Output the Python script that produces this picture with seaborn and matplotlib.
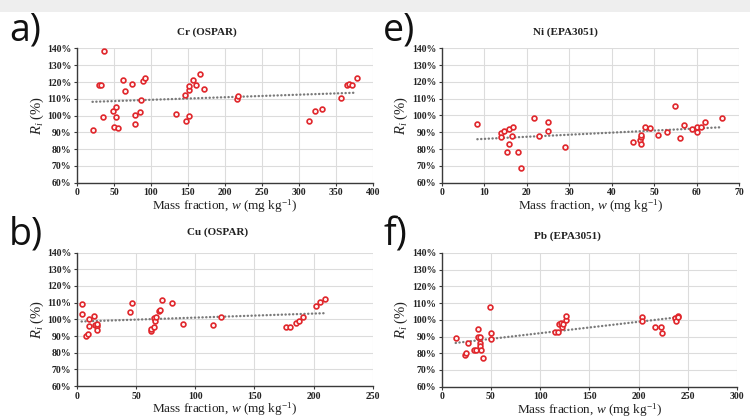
import matplotlib
matplotlib.use("Agg")
import matplotlib.pyplot as plt
import seaborn as sns
from matplotlib.ticker import PercentFormatter, MultipleLocator
from matplotlib.patches import Rectangle

# a) Cr (OSPAR)
cr_w = [21, 29.5, 32.5, 37, 34.5, 48.5, 53, 53, 50, 55.5, 62, 65, 74, 78, 79, 85, 86.5, 89, 92,
        134, 146, 147, 151, 151, 152, 157, 161, 166.5, 171.5, 216, 218,
        313, 322, 331, 357, 365, 368, 372, 378]
cr_r = [91.5, 118, 118, 138.5, 99, 103, 105, 99, 93, 92.5, 121.5, 114.5, 119, 95, 100.5, 102, 109.5, 120.5, 122.5,
        101, 112, 97, 100, 115.5, 117.5, 121, 118, 125, 116, 110, 111.5,
        96.5, 102.5, 104, 110.5, 118, 119, 118, 122.5]

# e) Ni (EPA3051)
ni_w = [8.4, 13.9, 13.9, 14.7, 15.8, 16.8, 16.6, 15.8, 15.4, 17.9, 18.7, 21.7, 22.9, 25, 25.1, 29,
        45, 46.7, 46.9, 46.9, 46.9, 47.9, 49, 51, 53, 55, 56, 57, 59, 60, 60, 61, 62, 66]
ni_r = [95, 89.5, 87.5, 91, 92, 93, 88, 83, 78, 78.5, 69, 98.5, 88, 96, 91, 81,
        84.5, 85.5, 87.5, 88.5, 83, 93, 92.5, 88.5, 90, 105.5, 86.5, 94.5, 92, 90, 93, 93, 96, 98.5]

# b) Cu (OSPAR)
cu_w = [3.9, 3.9, 7.6, 9, 10.1, 10.1, 14.6, 15.2, 16.9, 16.9, 17.2, 44.4, 46.1,
        62.5, 62.8, 65, 64.7, 65.9, 67, 69.2, 70.4, 71.8, 79.9, 89.8, 115.4, 121.6,
        176.5, 180.2, 185.2, 187.5, 191.4, 202.1, 205.5, 209.5]
cu_r = [109, 103.5, 90, 91.5, 100, 96, 102, 96.5, 96, 93.5, 97, 104.5, 109.5,
        93, 94, 95.5, 101, 99, 101.5, 105, 105.5, 111.5, 110, 97, 96.5, 101.5,
        95.5, 95.5, 98, 99, 101.5, 108, 110.5, 112]

# f) Pb (EPA3051)
pb_w = [14.2, 24, 25, 26.4, 33.1, 34.5, 36.6, 36.9, 38.6, 38.6, 38.9, 40.2, 42.3, 49.1, 50.4, 50.4,
        114.8, 118.1, 118.8, 120.9, 122.2, 123.5, 126, 126,
        203.2, 203.2, 216.4, 222.5, 223.5, 236.7, 238, 240, 240.5]
pb_r = [89, 79, 80, 86, 82, 82, 89.5, 94.5, 89.5, 86, 84.5, 82, 77, 107.5, 92, 88.5,
        92.5, 93, 97.5, 98, 96, 97.5, 100, 102.5,
        101.5, 99.5, 96, 95.5, 92, 101, 99.5, 102.5, 102]

sns.set_style("whitegrid")
plt.rcParams['font.family'] = ['Liberation Serif', 'DejaVu Serif']
plt.rcParams['mathtext.fontset'] = 'custom'
plt.rcParams['mathtext.rm'] = 'Liberation Serif'
plt.rcParams['mathtext.it'] = 'Liberation Serif:italic'
plt.rcParams['mathtext.bf'] = 'Liberation Serif:bold'

W, H = 750, 419
fig = plt.figure(figsize=(7.5, 4.19), dpi=100)
fig.patches.append(Rectangle((0, 1 - 12 / H), 1, 12 / H, transform=fig.transFigure,
                             facecolor='#eeeeee', edgecolor='none', zorder=0))

panels = [
    # letter, title, w, r, xmax, box(left, top, right, bottom px), title x frac, title y px, letter pos
    ("a)", "Cr (OSPAR)", cr_w, cr_r, 400, (77, 48.5, 373, 182.7), 0.44, 16.5, (9, 41)),
    ("e)", "Ni (EPA3051)", ni_w, ni_r, 70, (441.7, 48.3, 739, 182.7), 0.415, 16.5, (383, 41)),
    ("b)", "Cu (OSPAR)", cu_w, cu_r, 250, (77, 252.5, 372.7, 386.2), 0.475, 20, (9, 244)),
    ("f)", "Pb (EPA3051)", pb_w, pb_r, 300, (441.7, 253, 737, 386.7), 0.425, 17, (383, 245)),
]

for letter, title, w, r, xmax, box, tx, ty, lp in panels:
    l, t, rr, b = box
    ax = fig.add_axes([l / W, 1 - b / H, (rr - l) / W, (b - t) / H])
    sns.regplot(x=w, y=r, ax=ax, scatter=False, ci=None,
                line_kws=dict(color='#7a7a7a', lw=1.7, linestyle=(0, (0.1, 1.5)),
                              dash_capstyle='round', zorder=2))
    sns.scatterplot(x=w, y=r, ax=ax, s=12, color='#fff2f2', edgecolor='#e0262b',
                    linewidth=1.2, zorder=3)
    ax.set_xlim(0, xmax)
    ax.set_ylim(60, 140)
    ax.xaxis.set_major_locator(MultipleLocator(10 if xmax == 70 else 50))
    ax.yaxis.set_major_locator(MultipleLocator(10))
    ax.yaxis.set_major_formatter(PercentFormatter(decimals=0))
    ax.grid(True, color='#dcdcdc', lw=0.8)
    for s in ['top', 'right']:
        ax.spines[s].set_visible(False)
    for s in ['left', 'bottom']:
        ax.spines[s].set_color('#3a3a3a')
        ax.spines[s].set_linewidth(1.0)
    ax.tick_params(bottom=True, left=True, length=2.5, width=0.8, color='#3a3a3a',
                   labelsize=7, pad=1.5, labelcolor='#222222')
    for lab in ax.get_xticklabels() + ax.get_yticklabels():
        lab.set_fontweight('bold')
    ax.set_xlabel(r"Mass fraction, $w$ (mg kg$^{\mathrm{-1}}$)", fontsize=9.5,
                  color='#222222', labelpad=0)
    ax.set_ylabel(r"$R_i$ (%)", fontsize=10.5, color='#222222', labelpad=1)
    ax.text(tx, 1 + ty / (b - t), title, transform=ax.transAxes, ha='center', va='center',
            fontsize=8, fontweight='bold', color='#222222')
    fig.text(lp[0] / W, 1 - lp[1] / H, letter, fontsize=27, family='Open Sans',
             color='#111111', va='baseline', ha='left')

fig.savefig("out.png", dpi=100)
